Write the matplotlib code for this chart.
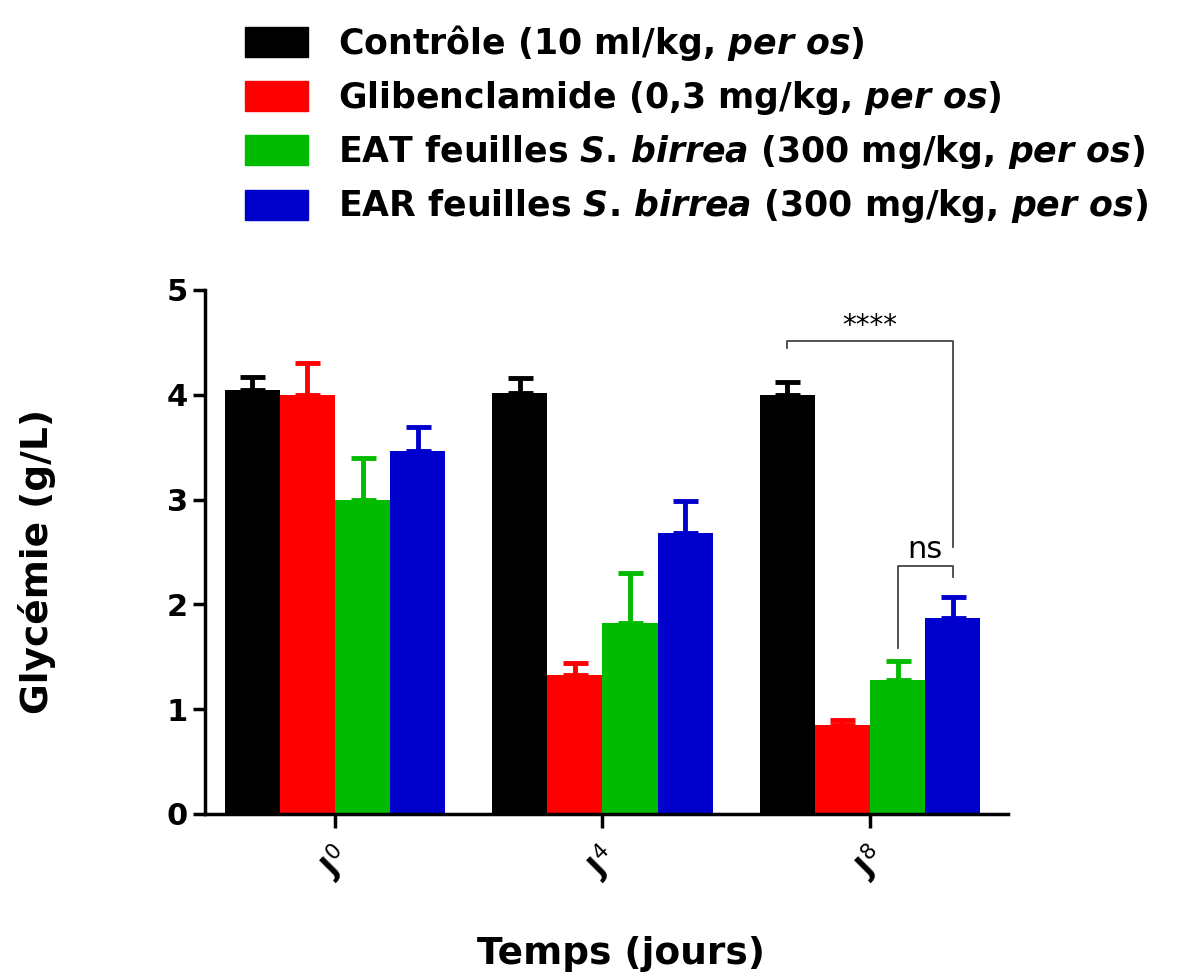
import matplotlib.pyplot as plt
from matplotlib.patches import Patch
import numpy as np

plt.rcParams['font.family'] = 'DejaVu Sans'
plt.rcParams['mathtext.fontset'] = 'custom'
plt.rcParams['mathtext.rm'] = 'DejaVu Sans:bold'
plt.rcParams['mathtext.it'] = 'DejaVu Sans:bold:italic'
plt.rcParams['mathtext.sf'] = 'DejaVu Sans'

# data (mean + SEM, upper bars only)
jours = ['0', '4', '8']
groupes = ['Contrôle (10 ml/kg, $\\mathit{per}$ $\\mathit{os}$)',
           'Glibenclamide (0,3 mg/kg, $\\mathit{per}$ $\\mathit{os}$)',
           'EAT feuilles $\\mathit{S}$. $\\mathit{birrea}$ (300 mg/kg, $\\mathit{per}$ $\\mathit{os}$)',
           'EAR feuilles $\\mathit{S}$. $\\mathit{birrea}$ (300 mg/kg, $\\mathit{per}$ $\\mathit{os}$)']
couleurs = ['#000000', '#ff0000', '#00bb00', '#0000cc']

controle = [4.05, 4.02, 4.00]
controle_err = [0.12, 0.14, 0.12]
gliben = [4.00, 1.33, 0.85]
gliben_err = [0.30, 0.11, 0.05]
eat = [3.00, 1.82, 1.28]
eat_err = [0.40, 0.48, 0.18]
ear = [3.46, 2.68, 1.87]
ear_err = [0.23, 0.31, 0.20]

moyennes = [controle, gliben, eat, ear]
erreurs = [controle_err, gliben_err, eat_err, ear_err]

fig = plt.figure(figsize=(12.03, 9.8), dpi=100)
ax = fig.add_axes([0.1704, 0.1694, 0.6675, 0.5347])

x = np.arange(len(jours))
w = 0.206
for i in range(4):
    pos = x + (i - 1.5) * w
    ax.bar(pos, moyennes[i], w, color=couleurs[i], edgecolor=couleurs[i], linewidth=0)
    ax.errorbar(pos, moyennes[i], yerr=[np.zeros(3), erreurs[i]], fmt='none',
                ecolor=couleurs[i], elinewidth=3.5, capsize=9, capthick=3.5)

# significance brackets
x_ctrl = x[2] - 1.5 * w
x_eat = x[2] + 0.5 * w
x_ear = x[2] + 1.5 * w
ax.plot([x_ctrl, x_ctrl, x_ear, x_ear], [4.45, 4.51, 4.51, 2.55], color='#444444', lw=1.3)
ax.text((x_ctrl + x_ear) / 2, 4.66, '****', ha='center', va='center', fontsize=20)
ax.plot([x_eat, x_eat, x_ear, x_ear], [1.58, 2.37, 2.37, 2.26], color='#444444', lw=1.3)
ax.text((x_eat + x_ear) / 2, 2.52, 'ns', ha='center', va='center', fontsize=22)

ax.set_xlim(-0.486, 2.516)
ax.set_ylim(0, 5)
ax.set_yticks([0, 1, 2, 3, 4, 5])
ax.set_xticks(x)
ax.set_xticklabels(['J$^{\\mathsf{' + j + '}}$' for j in jours], rotation=45,
                   ha='center', va='top', fontsize=22, fontweight='bold')
ax.tick_params(axis='y', labelsize=22, width=2.5, length=9, direction='out')
ax.tick_params(axis='x', width=2.5, length=10, direction='out', pad=8)
for t in ax.get_yticklabels():
    t.set_fontweight('bold')
for s in ['top', 'right']:
    ax.spines[s].set_visible(False)
for s in ['left', 'bottom']:
    ax.spines[s].set_linewidth(2.5)

fig.text(0.031, 0.427, 'Glycémie (g/L)', rotation=90, ha='center', va='center',
         fontsize=27, fontweight='bold')
fig.text(0.516, 0.027, 'Temps (jours)', ha='center', va='center',
         fontsize=27, fontweight='bold')

handles = [Patch(facecolor=c, edgecolor=c) for c in couleurs]
leg = fig.legend(handles, groupes, loc='upper left', bbox_to_anchor=(0.2037, 0.977),
                 frameon=False, fontsize=25, handlelength=1.81, handleheight=0.95,
                 handletextpad=0.86, labelspacing=0.47, borderpad=0, borderaxespad=0)
for t in leg.get_texts():
    t.set_fontweight('bold')

fig.savefig('out.png', dpi=100)
